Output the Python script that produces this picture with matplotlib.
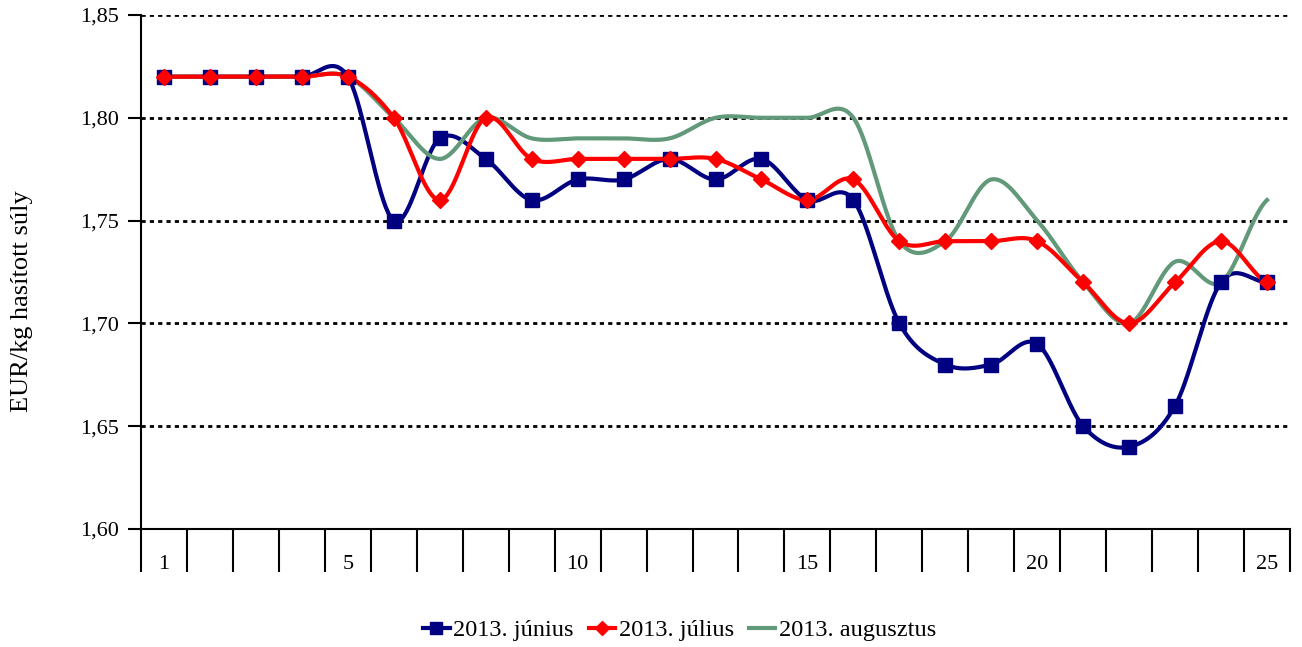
import numpy as np
import matplotlib
matplotlib.use("Agg")
import matplotlib.pyplot as plt
from matplotlib.ticker import FixedLocator, FuncFormatter

days = list(range(1, 26))
tick_labels = ["1", "5", "10", "15", "20", "25"]
june = [1.82, 1.82, 1.82, 1.82, 1.82, 1.75, 1.79, 1.78, 1.76, 1.77, 1.77, 1.78, 1.77,
        1.78, 1.76, 1.76, 1.70, 1.68, 1.68, 1.69, 1.65, 1.64, 1.66, 1.72, 1.72]
july = [1.82, 1.82, 1.82, 1.82, 1.82, 1.80, 1.76, 1.80, 1.78, 1.78, 1.78, 1.78, 1.78,
        1.77, 1.76, 1.77, 1.74, 1.74, 1.74, 1.74, 1.72, 1.70, 1.72, 1.74, 1.72]
august = [1.82, 1.82, 1.82, 1.82, 1.82, 1.80, 1.78, 1.80, 1.79, 1.79, 1.79, 1.79, 1.80,
          1.80, 1.80, 1.80, 1.74, 1.74, 1.77, 1.75, 1.72, 1.70, 1.73, 1.72, 1.76]
series_names = ["2013. június", "2013. július", "2013. augusztus"]


def smooth(x, y, n=40):
    x = np.asarray(x, float)
    y = np.asarray(y, float)
    m = np.zeros_like(y)
    m[1:-1] = (y[2:] - y[:-2]) / (x[2:] - x[:-2])
    m[0] = (y[1] - y[0]) / (x[1] - x[0]) * 0.5
    m[-1] = (y[-1] - y[-2]) / (x[-1] - x[-2]) * 0.5
    xs, ys = [], []
    for i in range(len(x) - 1):
        h = x[i + 1] - x[i]
        t = np.linspace(0, 1, n, endpoint=False)
        h00 = 2 * t**3 - 3 * t**2 + 1
        h10 = t**3 - 2 * t**2 + t
        h01 = -2 * t**3 + 3 * t**2
        h11 = t**3 - t**2
        xs.append(x[i] + t * h)
        ys.append(h00 * y[i] + h10 * h * m[i] + h01 * y[i + 1] + h11 * h * m[i + 1])
    xs.append([x[-1]])
    ys.append([y[-1]])
    return np.concatenate(xs), np.concatenate(ys)


plt.rcParams['font.family'] = ['Liberation Serif', 'DejaVu Serif']
fig = plt.figure(figsize=(13.02, 6.47), dpi=100)
ax = fig.add_axes([0.1083, 0.1824, 0.8825, 0.7944])

c_june = "#000080"
c_july = "#FF0000"
c_aug = "#62997A"
lw = 3.0

sx, sy = smooth(days, august)
ax.plot(sx, sy, color=c_aug, lw=lw, zorder=3)
sx, sy = smooth(days, july)
ax.plot(sx, sy, color=c_july, lw=lw, zorder=4)
ax.plot(days, july, ls='none', marker='D', ms=8, color=c_july, zorder=6)
sx, sy = smooth(days, june)
ax.plot(sx, sy, color=c_june, lw=lw, zorder=2)
ax.plot(days, june, ls='none', marker='s', ms=10, color=c_june, zorder=5)

# legend handles
h1, = ax.plot([], [], color=c_june, lw=lw, marker='s', ms=9)
h2, = ax.plot([], [], color=c_july, lw=lw, marker='D', ms=7)
h3, = ax.plot([], [], color=c_aug, lw=lw)
leg = fig.legend([h1, h2, h3], series_names, loc='center', bbox_to_anchor=(0.522, 0.026),
                 ncol=3, frameon=False, fontsize=17.5, handlelength=1.1, handletextpad=0.15,
                 columnspacing=0.6, borderpad=0)

ax.set_xlim(0.5, 25.5)
ax.set_ylim(1.60, 1.85)
ax.set_yticks([1.60, 1.65, 1.70, 1.75, 1.80, 1.85])
ax.yaxis.set_major_formatter(FuncFormatter(lambda v, p: f"{v:.2f}".replace('.', ',')))
for yv in [1.65, 1.70, 1.75, 1.80, 1.85]:
    ax.axhline(yv, color='black', lw=2, ls=(0, (1.5, 1.5)), zorder=1)

ax.xaxis.set_major_locator(FixedLocator([int(t) for t in tick_labels]))
ax.set_xticklabels(tick_labels)
ax.xaxis.set_minor_locator(FixedLocator(np.arange(0.5, 26, 1.0)))
ax.tick_params(axis='x', which='major', length=0, pad=19, labelsize=16)
ax.tick_params(axis='x', which='minor', length=31, width=1.5, direction='out')
ax.tick_params(axis='y', which='major', length=9.5, width=1.5, direction='out', labelsize=16, pad=6)

for s in ['top', 'right']:
    ax.spines[s].set_visible(False)
ax.spines['left'].set_linewidth(1.5)
ax.spines['bottom'].set_linewidth(1.5)

fig.text(22 / 1302, 1 - 301 / 647, "EUR/kg hasított súly", rotation=90, fontsize=19,
         ha='center', va='center')

fig.savefig("out.png", dpi=100)
